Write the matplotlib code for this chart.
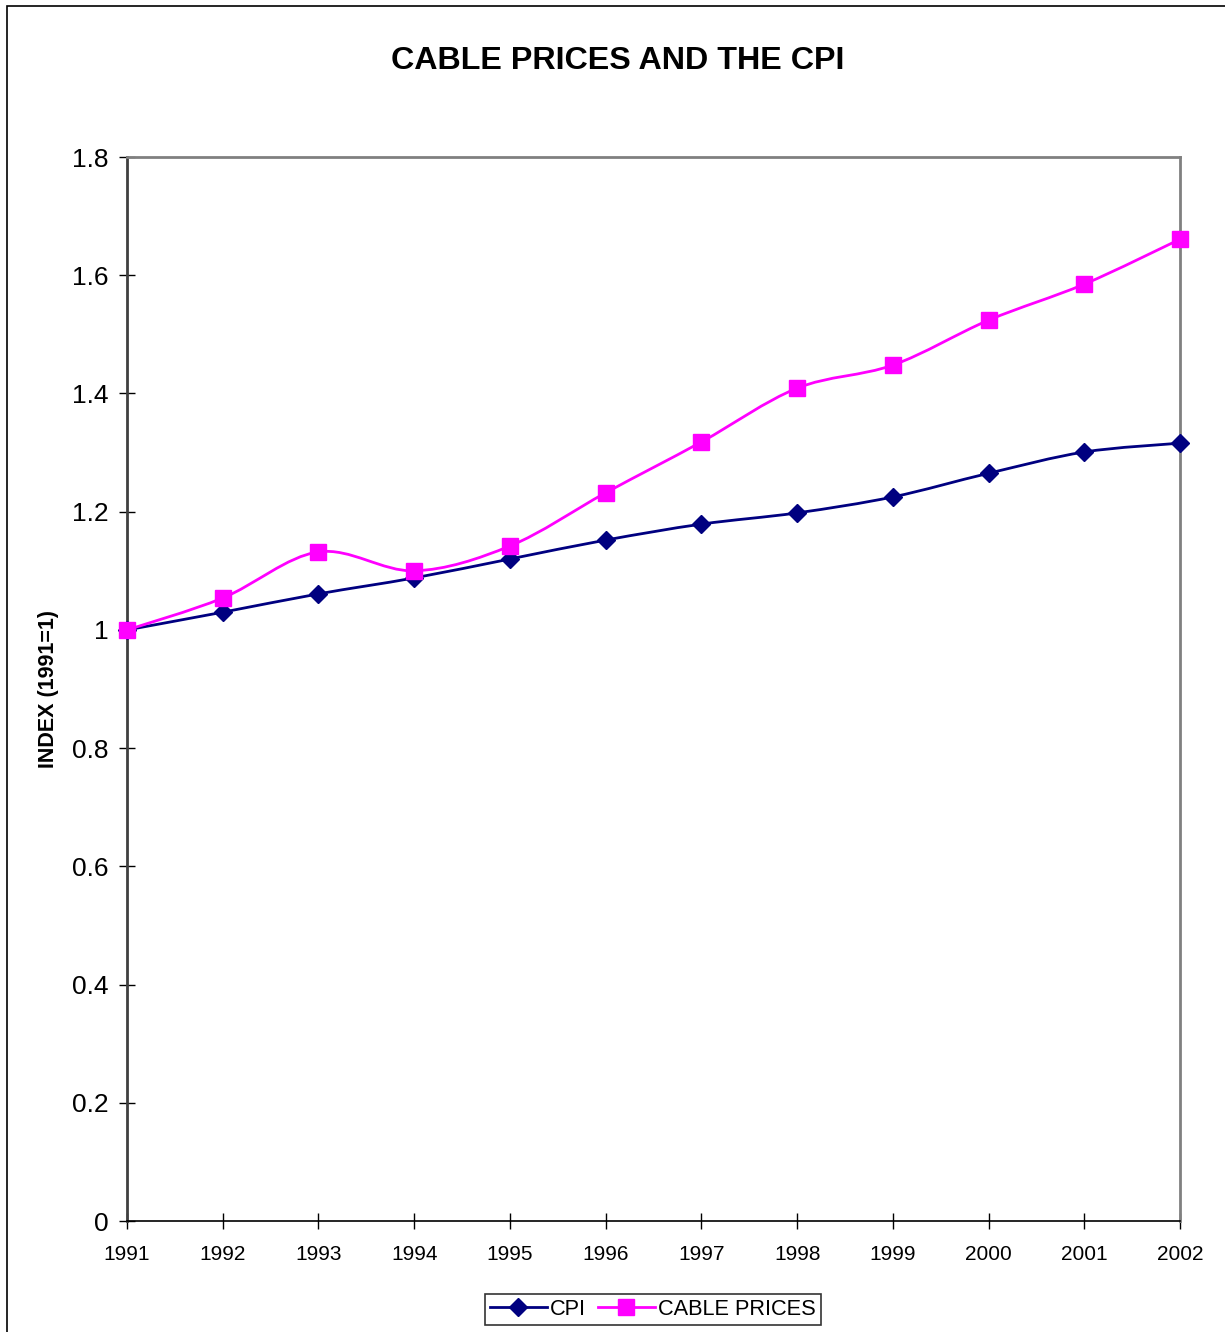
import numpy as np
import matplotlib.pyplot as plt
from matplotlib.path import Path
from matplotlib.patches import PathPatch, Rectangle
from matplotlib.lines import Line2D

years = [1991, 1992, 1993, 1994, 1995, 1996, 1997, 1998, 1999, 2000, 2001, 2002]
cpi = [1.000, 1.030, 1.061, 1.088, 1.120, 1.152, 1.179, 1.198, 1.225, 1.265, 1.301, 1.316]
cable = [1.000, 1.054, 1.132, 1.100, 1.142, 1.232, 1.318, 1.409, 1.448, 1.524, 1.585, 1.661]
yticks = [0, 0.2, 0.4, 0.6, 0.8, 1, 1.2, 1.4, 1.6, 1.8]
ytick_labels = ['0', '0.2', '0.4', '0.6', '0.8', '1', '1.2', '1.4', '1.6', '1.8']

plt.rcParams['font.family'] = ['Liberation Sans', 'DejaVu Sans']

NAVY = '#000080'
MAGENTA = '#ff00ff'


def smooth_path(xs, ys):
    # catmull-rom through the points, written as cubic beziers
    pts = np.column_stack([xs, ys]).astype(float)
    n = len(pts)
    verts = [pts[0]]
    codes = [Path.MOVETO]
    for i in range(n - 1):
        p0 = pts[i - 1] if i > 0 else pts[i]
        p1 = pts[i]
        p2 = pts[i + 1]
        p3 = pts[i + 2] if i + 2 < n else pts[i + 1]
        c1 = p1 + (p2 - p0) / 6.0
        c2 = p2 - (p3 - p1) / 6.0
        verts += [c1, c2, p2]
        codes += [Path.CURVE4] * 3
    return Path(verts, codes)


fig = plt.figure(figsize=(12.25, 13.32), dpi=100)
ax = fig.add_axes([0.1037, 0.0833, 0.8596, 0.7988])

for vals, col in [(cpi, NAVY), (cable, MAGENTA)]:
    ax.add_patch(PathPatch(smooth_path(years, vals), facecolor='none',
                           edgecolor=col, lw=2, zorder=2))

ax.plot(years, cpi, linestyle='none', marker='D', markersize=9.5,
        color=NAVY, zorder=3, clip_on=False)
ax.plot(years, cable, linestyle='none', marker='s', markersize=12,
        color=MAGENTA, zorder=4, clip_on=False)

ax.set_xlim(1991, 2002)
ax.set_ylim(0, 1.8)
ax.set_xticks(years)
ax.set_xticklabels([str(y) for y in years], fontsize=15)
ax.set_yticks(yticks)
ax.set_yticklabels(ytick_labels, fontsize=19)
ax.tick_params(axis='both', direction='inout', length=11, width=1, color='black')
ax.tick_params(axis='x', pad=12)
ax.tick_params(axis='y', pad=8)

for side in ['top', 'right']:
    ax.spines[side].set_color('#808080')
    ax.spines[side].set_linewidth(2)
ax.spines['bottom'].set_color('black')
ax.spines['bottom'].set_linewidth(1.2)
ax.spines['left'].set_color('#404040')
ax.spines['left'].set_linewidth(2)

ax.set_ylabel('INDEX (1991=1)', fontsize=15.5, fontweight='bold', labelpad=9)

fig.text(0.504, 0.9545, 'CABLE PRICES AND THE CPI', ha='center', va='center',
         fontsize=23.2, fontweight='bold')

handles = [
    Line2D([], [], color=NAVY, lw=2, marker='D', markersize=9.5),
    Line2D([], [], color=MAGENTA, lw=2, marker='s', markersize=12),
]
leg = fig.legend(handles, ['CPI', 'CABLE PRICES'], loc='center',
                 bbox_to_anchor=(0.533, 0.0169), ncol=2, fontsize=15.7,
                 frameon=True, fancybox=False, handlelength=2.6,
                 handletextpad=0.15, columnspacing=0.55, borderpad=0.22,
                 borderaxespad=0)
leg.get_frame().set_edgecolor('black')
leg.get_frame().set_linewidth(1.2)

# outer chart border
fig.patches.append(Rectangle((7 / 1225, -0.01), 1.0, 1 - 6 / 1332 + 0.01,
                             transform=fig.transFigure, fill=False,
                             edgecolor='black', lw=1.2))

fig.savefig('out.png', dpi=100)
